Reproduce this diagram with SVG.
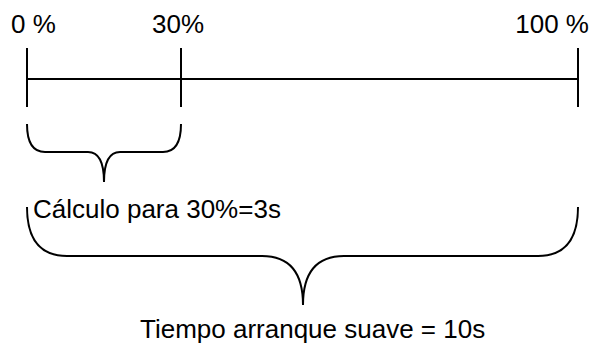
<svg xmlns="http://www.w3.org/2000/svg" width="594" height="345" viewBox="0 0 594 345">
<style>
.ln{fill:none;stroke:#000;stroke-width:2}
.t{font-family:"Liberation Sans",Arial,sans-serif;font-size:26px;fill:#000}
</style>
<rect width="594" height="345" fill="#fff"/>
<g id="connectors">
<path class="ln" d="M27,79 H578"/>
</g>
<g id="tick0"><path class="ln" d="M27,48 V107"/><text class="t" x="11" y="33">0 %</text></g>
<g id="tick30"><path class="ln" d="M181,48 V107"/><text class="t" x="152" y="33">30%</text></g>
<g id="tick100"><path class="ln" d="M578,48 V107"/><text class="t" x="589" y="33" text-anchor="end">100 %</text></g>
<g id="brace30">
<path class="ln" d="M27,124 Q27,152 45,152 L88,152 Q104,152 104,182 Q104,152 120,152 L163,152 Q181,152 181,124"/>
<text class="t" x="33" y="218">Cálculo para 30%=3s</text>
</g>
<g id="brace100">
<path class="ln" d="M27,207 Q27,256 67,256 L262,256 Q303,256 303,305 Q303,256 344,256 L538,256 Q578,256 578,207"/>
<text class="t" x="140" y="338">Tiempo arranque suave = 10s</text>
</g>
</svg>
